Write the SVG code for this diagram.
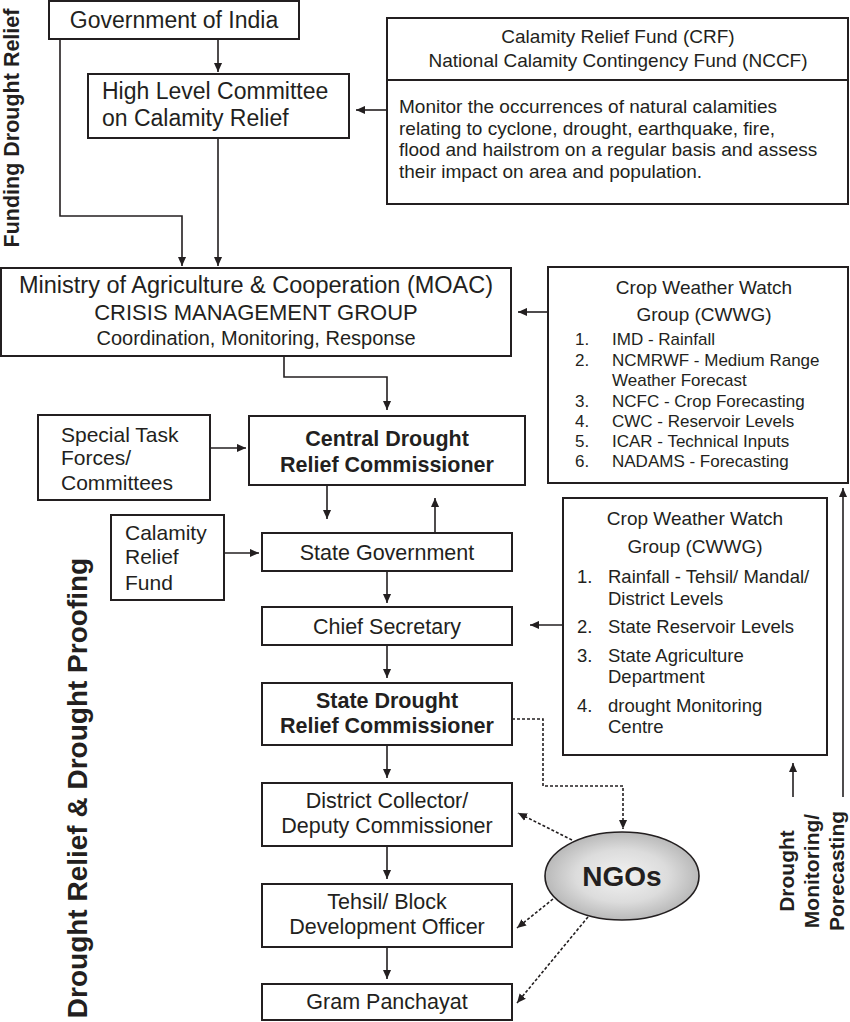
<svg xmlns="http://www.w3.org/2000/svg" width="850" height="1022" viewBox="0 0 850 1022">
<defs>
<style>
.box{fill:#fff;stroke:#231f20;stroke-width:2}
.t{font-family:"Liberation Sans",Arial,sans-serif;fill:#231f20}
.c{text-anchor:middle}
.b{font-weight:bold}
.ln{fill:none;stroke:#231f20;stroke-width:1.6}
.dl{fill:none;stroke:#231f20;stroke-width:1.6;stroke-dasharray:3,2}
</style>
<marker id="ah" viewBox="0 0 10 10" refX="10" refY="5" markerWidth="9" markerHeight="9" orient="auto" markerUnits="userSpaceOnUse"><path d="M0,0.5 L10,5 L0,9.5 z" fill="#231f20"/></marker>
<radialGradient id="ng" cx="50%" cy="50%" r="50%"><stop offset="0" stop-color="#f2f2f2"/><stop offset="0.6" stop-color="#dcdcdc"/><stop offset="1" stop-color="#b9b9b9"/></radialGradient>
</defs>
<rect width="850" height="1022" fill="#fff"/>

<g id="labels" class="t b">
<text transform="translate(19,128) rotate(-90)" class="c" font-size="21.5">Funding Drought Relief</text>
<text transform="translate(87,788) rotate(-90)" class="c" font-size="28">Drought Relief &amp; Drought Proofing</text>
<text transform="translate(794,871) rotate(-90)" class="c" font-size="21">Drought</text>
<text transform="translate(819,871) rotate(-90)" class="c" font-size="21">Monitoring/</text>
<text transform="translate(844,871) rotate(-90)" class="c" font-size="21">Porecasting</text>
</g>

<g id="connectors">
<path class="ln" d="M218,39 V72" marker-end="url(#ah)"/>
<path class="ln" d="M60,39 V216 H182 V266" marker-end="url(#ah)"/>
<path class="ln" d="M218,138 V266" marker-end="url(#ah)"/>
<path class="ln" d="M387,110 H356" marker-end="url(#ah)"/>
<path class="ln" d="M548,312 H518" marker-end="url(#ah)"/>
<path class="ln" d="M284,356 V377 H387 V410" marker-end="url(#ah)"/>
<path class="ln" d="M210,448 H246" marker-end="url(#ah)"/>
<path class="ln" d="M327,485 V519" marker-end="url(#ah)"/>
<path class="ln" d="M435,533 V498" marker-end="url(#ah)"/>
<path class="ln" d="M224,553 H259" marker-end="url(#ah)"/>
<path class="ln" d="M387,571 V603" marker-end="url(#ah)"/>
<path class="ln" d="M563,625 H530" marker-end="url(#ah)"/>
<path class="ln" d="M387,645 V678" marker-end="url(#ah)"/>
<path class="ln" d="M387,745 V778" marker-end="url(#ah)"/>
<path class="ln" d="M387,846 V879" marker-end="url(#ah)"/>
<path class="ln" d="M387,947 V979" marker-end="url(#ah)"/>
<path class="dl" d="M512,719 H543 V786 H623 V829" marker-end="url(#ah)"/>
<path class="dl" d="M572,840 L518,813" marker-end="url(#ah)"/>
<path class="dl" d="M553,899 L517,928" marker-end="url(#ah)"/>
<path class="dl" d="M588,917 L517,1003" marker-end="url(#ah)"/>
<path class="ln" d="M843,797 V488" marker-end="url(#ah)"/>
<path class="ln" d="M793,797 V763" marker-end="url(#ah)"/>
</g>

<g id="gov">
<rect class="box" x="49" y="1" width="250" height="38"/>
<text class="t c" x="174" y="28" font-size="23">Government of India</text>
</g>

<g id="hlc">
<rect class="box" x="88" y="74" width="261" height="64"/>
<text class="t" x="102" y="99" font-size="23">High Level Committee</text>
<text class="t" x="102" y="126" font-size="23">on Calamity Relief</text>
</g>

<g id="crf">
<rect class="box" x="387" y="18" width="461" height="186"/>
<line x1="387" y1="80" x2="848" y2="80" stroke="#231f20" stroke-width="2"/>
<text class="t c" x="618" y="43" font-size="19">Calamity Relief Fund (CRF)</text>
<text class="t c" x="618" y="67" font-size="19">National Calamity Contingency Fund (NCCF)</text>
<text class="t" x="399" y="113" font-size="19">Monitor the occurrences of natural calamities</text>
<text class="t" x="399" y="134.5" font-size="19">relating to cyclone, drought, earthquake, fire,</text>
<text class="t" x="399" y="156" font-size="19">flood and hailstrom on a regular basis and assess</text>
<text class="t" x="399" y="177.5" font-size="19">their impact on area and population.</text>
</g>

<g id="moac">
<rect class="box" x="1" y="268" width="510" height="88"/>
<text class="t c" x="256" y="293" font-size="23.5">Ministry of Agriculture &amp; Cooperation (MOAC)</text>
<text class="t c" x="256" y="320" font-size="22">CRISIS MANAGEMENT GROUP</text>
<text class="t c" x="256" y="345" font-size="20">Coordination, Monitoring, Response</text>
</g>

<g id="cwwg1">
<rect class="box" x="548" y="267" width="300" height="216"/>
<text class="t c" x="704" y="294" font-size="19">Crop Weather Watch</text>
<text class="t c" x="704" y="321" font-size="19">Group (CWWG)</text>
<g class="t" font-size="17">
<text x="575" y="345">1.</text><text x="612" y="345">IMD - Rainfall</text>
<text x="575" y="366">2.</text><text x="612" y="366">NCMRWF - Medium Range</text>
<text x="612" y="386">Weather Forecast</text>
<text x="575" y="407">3.</text><text x="612" y="407">NCFC - Crop Forecasting</text>
<text x="575" y="427">4.</text><text x="612" y="427">CWC - Reservoir Levels</text>
<text x="575" y="447">5.</text><text x="612" y="447">ICAR - Technical Inputs</text>
<text x="575" y="467">6.</text><text x="612" y="467">NADAMS - Forecasting</text>
</g>
</g>

<g id="stf">
<rect class="box" x="38" y="415" width="172" height="85"/>
<text class="t" x="61" y="442" font-size="21">Special Task</text>
<text class="t" x="61" y="465" font-size="21">Forces/</text>
<text class="t" x="61" y="490" font-size="21">Committees</text>
</g>

<g id="central">
<rect class="box" x="249" y="416" width="276" height="69"/>
<text class="t c b" x="387" y="446" font-size="21.5">Central Drought</text>
<text class="t c b" x="387" y="472" font-size="21.5">Relief Commissioner</text>
</g>

<g id="crfund">
<rect class="box" x="111" y="515" width="113" height="85"/>
<text class="t" x="125" y="540" font-size="21">Calamity</text>
<text class="t" x="125" y="564" font-size="21">Relief</text>
<text class="t" x="125" y="590" font-size="21">Fund</text>
</g>

<g id="stategov">
<rect class="box" x="262" y="533" width="250" height="38"/>
<text class="t c" x="387" y="560" font-size="21.5">State Government</text>
</g>

<g id="chief">
<rect class="box" x="262" y="607" width="250" height="38"/>
<text class="t c" x="387" y="634" font-size="21.5">Chief Secretary</text>
</g>

<g id="statedrought">
<rect class="box" x="262" y="683" width="250" height="62"/>
<text class="t c b" x="387" y="708" font-size="21.5">State Drought</text>
<text class="t c b" x="387" y="733" font-size="21.5">Relief Commissioner</text>
</g>

<g id="district">
<rect class="box" x="262" y="783" width="250" height="63"/>
<text class="t c" x="387" y="808" font-size="21.5">District Collector/</text>
<text class="t c" x="387" y="833" font-size="21.5">Deputy Commissioner</text>
</g>

<g id="tehsil">
<rect class="box" x="262" y="884" width="250" height="63"/>
<text class="t c" x="387" y="909" font-size="21.5">Tehsil/ Block</text>
<text class="t c" x="387" y="934" font-size="21.5">Development Officer</text>
</g>

<g id="gram">
<rect class="box" x="262" y="984" width="250" height="36"/>
<text class="t c" x="387" y="1009" font-size="21.5">Gram Panchayat</text>
</g>

<g id="cwwg2">
<rect class="box" x="563" y="498" width="264" height="257"/>
<text class="t c" x="695" y="525" font-size="19">Crop Weather Watch</text>
<text class="t c" x="695" y="553" font-size="19">Group (CWWG)</text>
<g class="t" font-size="18.5">
<text x="577" y="583">1.</text><text x="608" y="583">Rainfall - Tehsil/ Mandal/</text>
<text x="608" y="605">District Levels</text>
<text x="577" y="633">2.</text><text x="608" y="633">State Reservoir Levels</text>
<text x="577" y="662">3.</text><text x="608" y="662">State Agriculture</text>
<text x="608" y="683">Department</text>
<text x="577" y="712">4.</text><text x="608" y="712">drought Monitoring</text>
<text x="608" y="733">Centre</text>
</g>
</g>

<g id="ngos">
<ellipse cx="622" cy="876" rx="77" ry="44" fill="url(#ng)" stroke="#231f20" stroke-width="1.6"/>
<text class="t c b" x="622" y="886" font-size="28">NGOs</text>
</g>
</svg>
